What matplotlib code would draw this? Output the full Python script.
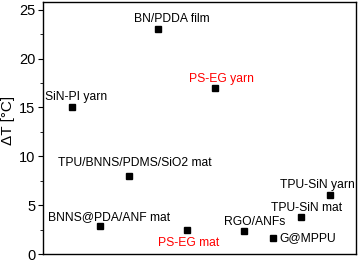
import matplotlib
matplotlib.use("Agg")
import matplotlib.pyplot as plt
from matplotlib.ticker import MultipleLocator

plt.rcParams['font.family'] = ['Liberation Sans', 'DejaVu Sans']

labels = ["SiN-PI yarn", "BNNS@PDA/ANF mat", "TPU/BNNS/PDMS/SiO2 mat", "BN/PDDA film",
          "PS-EG mat", "PS-EG yarn", "RGO/ANFs", "G@MPPU", "TPU-SiN mat", "TPU-SiN yarn"]
xpos = [1, 2, 3, 4, 5, 6, 7, 8, 9, 10]
dT = [15.0, 2.9, 8.0, 23.0, 2.5, 17.0, 2.4, 1.6, 3.8, 6.0]
colors = ["black", "black", "black", "black", "red", "red", "black", "black", "black", "black"]
# label offsets in pixels (dx, dy) and horizontal alignment
offsets = [(4, 10, "center"), (9, 9, "center"), (6, 13, "center"), (14, 10, "center"),
           (2, -13, "center"), (6, 9, "center"), (11, 9, "center"), (7, 0, "left"),
           (5, 9, "center"), (-13, 10, "center")]

fig = plt.figure(figsize=(3.6, 2.61), dpi=100)
ax = fig.add_axes([43 / 360, 7 / 261, 313 / 360, 252 / 261])

ax.plot(xpos, dT, "s", color="black", markersize=4.3, linestyle="none")
for x, y, lab, c, (dx, dy, ha) in zip(xpos, dT, labels, colors, offsets):
    ax.annotate(lab, (x, y), xytext=(dx, dy), textcoords="offset pixels",
                ha=ha, va="center", color=c, fontsize=8.7)

ax.set_xlim(0, 10.9)
ax.set_ylim(0, 25.8)
ax.set_yticks([0, 5, 10, 15, 20, 25])
ax.yaxis.set_minor_locator(MultipleLocator(2.5))
ax.set_xticks([])
ax.tick_params(axis="y", which="major", direction="out", labelsize=10.5, length=3.5, pad=2)
ax.tick_params(axis="y", which="minor", direction="out", length=2)
ax.set_ylabel("ΔT [°C]", fontsize=11)
ax.yaxis.set_label_coords(-0.088, 0.53)
for s in ax.spines.values():
    s.set_linewidth(1.0)

fig.savefig("out.png", dpi=100)
